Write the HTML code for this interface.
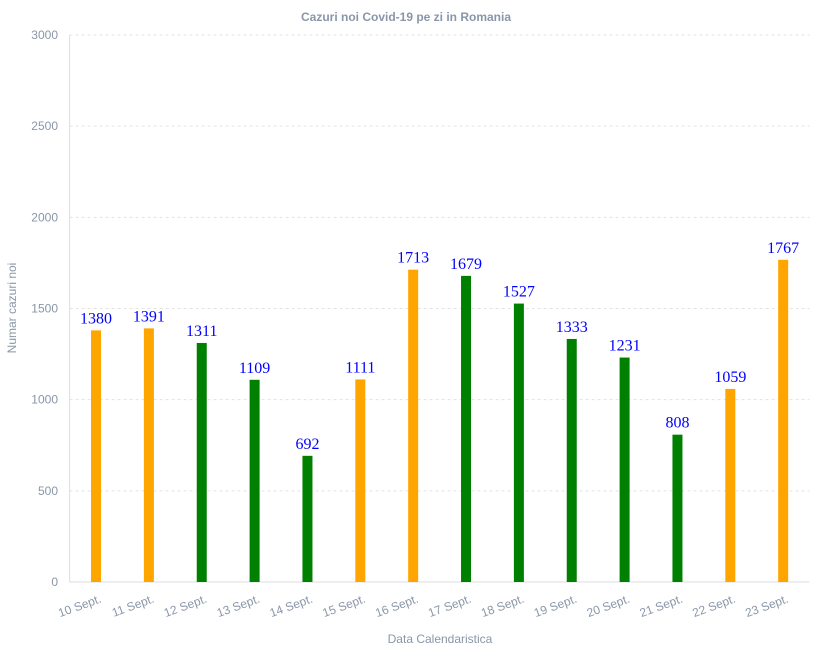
<!DOCTYPE html>
<html><head><meta charset="utf-8"><style>
html,body{margin:0;padding:0;background:#fff;}
svg{display:block;font-family:"Liberation Sans",sans-serif;}
</style></head><body>
<svg id="chart" width="813" height="652">
<text x="406" y="21" text-anchor="middle" font-size="12" font-weight="bold" fill="#8a96a8">Cazuri noi Covid-19 pe zi in Romania</text>
<text x="0" y="0" transform="translate(16,308) rotate(-90)" text-anchor="middle" font-size="12" fill="#8a96a8">Numar cazuri noi</text>
<text x="440" y="643" text-anchor="middle" font-size="12" fill="#8a96a8">Data Calendaristica</text>
<g id="grid"></g><g id="bars"></g><g id="labels"></g><g id="xt"></g><g id="yt"></g>
</svg>
<script>
const categories=["10 Sept.","11 Sept.","12 Sept.","13 Sept.","14 Sept.","15 Sept.","16 Sept.","17 Sept.","18 Sept.","19 Sept.","20 Sept.","21 Sept.","22 Sept.","23 Sept."];
const values=[1380,1391,1311,1109,692,1111,1713,1679,1527,1333,1231,808,1059,1767];
const barColors=["#ffa500","#ffa500","#008000","#008000","#008000","#ffa500","#ffa500","#008000","#008000","#008000","#008000","#008000","#ffa500","#ffa500"];
const yTicks=[0,500,1000,1500,2000,2500,3000];
const NS="http://www.w3.org/2000/svg";
const L=69.6,R=809.6,T=35,B=582,YMAX=3000;
const bw=(R-L)/categories.length;
const y=v=>B-(v/YMAX)*(B-T);
const x=i=>L+bw*(i+0.5);
function mk(tag,attrs,parent,text){const e=document.createElementNS(NS,tag);for(const k in attrs)e.setAttribute(k,attrs[k]);if(text!==undefined)e.textContent=text;document.getElementById(parent).appendChild(e);return e;}
yTicks.forEach(t=>{
  if(t>0){const g=mk("line",{x1:L,x2:R,y1:y(t),y2:y(t),stroke:"#e3e3e3","stroke-dasharray":"3,3"},"grid");
  
  }
  const tx=mk("text",{x:58,y:y(t)+4,"text-anchor":"end","font-size":12,fill:"#8a96a8"},"yt",String(t));
  
  
});
const ax=mk("line",{x1:L,x2:L,y1:T,y2:B,stroke:"#dedede"},"grid");


const bx=mk("line",{x1:L,x2:R,y1:B,y2:B,stroke:"#dedede"},"grid");


values.forEach((v,i)=>{
  const r=mk("rect",{x:x(i)-5,y:y(v),width:10,height:B-y(v),fill:barColors[i]},"bars");
  
  
  const lb=mk("text",{x:x(i),y:y(v)-7,"text-anchor":"middle","font-size":16,fill:"#0000ff","font-family":"Liberation Serif,serif"},"labels",String(v));
  
  
  const xl=mk("text",{x:0,y:0,transform:`translate(${x(i)+6},${B+20}) rotate(-20)`,"text-anchor":"end","font-size":12,fill:"#8a96a8"},"xt",categories[i]);
  
  
});
</script>
</body></html>
